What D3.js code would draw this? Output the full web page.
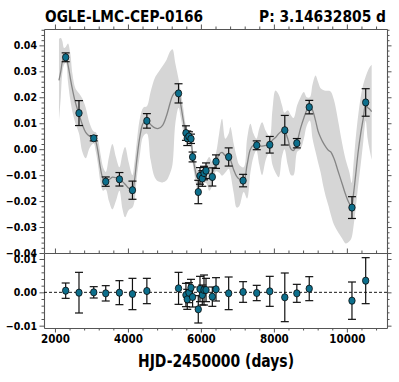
<!DOCTYPE html>
<html>
<head>
<meta charset="utf-8">
<script src="https://cdn.jsdelivr.net/npm/d3@7"></script>
<style>
  body { margin: 0; background: #fff; }
  text { font-family: "DejaVu Sans Condensed", "DejaVu Sans", sans-serif; font-weight: bold; font-stretch: condensed; }
</style>
</head>
<body>
<div id="chart"></div>
<script>
// Variables
var width = 399;
var height = 382;

var starName = 'OGLE-LMC-CEP-0166';
var periodText = 'P: 3.14632805 d';
var xLabel = 'HJD-2450000 (days)';

// observed light curve (HJD-2450000, mag offset, error)
var tObs = [2294, 2659, 3063, 3392, 3767, 4124, 4519, 5387, 5590, 5626, 5672, 5728, 5772,
  5928, 5975, 6038, 6085, 6140, 6313, 6414, 6761, 7156, 7530, 7887, 8299, 8629, 8969, 10140, 10516];
var magObs = [0.0354, 0.0139, 0.0042, -0.0125, -0.0116, -0.0158, 0.0109, 0.0215, 0.0062, 0.0042, 0.0049, 0.0040, -0.0030,
  -0.0165, -0.0103, -0.0113, -0.0092, -0.0083, -0.0107, -0.0048, -0.0030, -0.0121, 0.0015, 0.0017, 0.0073, 0.0023, 0.0162, -0.0225, 0.0180];
var errObs = [0.0017, 0.0048, 0.0010, 0.0018, 0.0026, 0.0035, 0.0028, 0.0037, 0.0028, 0.0028, 0.0018, 0.0018, 0.0019,
  0.0045, 0.0032, 0.0030, 0.0026, 0.0030, 0.0035, 0.0026, 0.0035, 0.0024, 0.0017, 0.0032, 0.0057, 0.0018, 0.0026, 0.0042, 0.0053];

// residuals
var resid = [0.0005, -0.0001, 0.0000, -0.0003, -0.0001, -0.0005, 0.0004, 0.0012, -0.0008, -0.0021, -0.0001, 0.0014, -0.0014,
  -0.0051, 0.0010, -0.0008, 0.0007, 0.0007, -0.0013, 0.0009, -0.0003, 0.0001, -0.0002, 0.0003, -0.0015, -0.0003, 0.0011, -0.0025, 0.0035];
var residErr = [0.0023, 0.0061, 0.0017, 0.0023, 0.0036, 0.0047, 0.0038, 0.0048, 0.0035, 0.0030, 0.0030, 0.0025, 0.0030,
  0.0041, 0.0038, 0.0030, 0.0045, 0.0035, 0.0029, 0.0035, 0.0049, 0.0031, 0.0023, 0.0045, 0.0073, 0.0027, 0.0036, 0.0056, 0.0069];

// GP model: mean and 2-sigma band
var gpT = [2110, 2160, 2200, 2250, 2300, 2357, 2420, 2480, 2560, 2659, 2750, 2843, 2950, 3060, 3120, 3180, 3250, 3320, 3392,
  3480, 3574, 3670, 3767, 3850, 3923, 4020, 4124, 4180, 4244, 4330, 4420, 4519, 4620, 4740, 4839, 4950, 5060, 5150, 5220,
  5300, 5387, 5450, 5525, 5590, 5650, 5728, 5772, 5830, 5900, 5960, 6040, 6140, 6230, 6313, 6414, 6500, 6579, 6670, 6761,
  6807, 6900, 6980, 7050, 7173, 7266, 7357, 7440, 7521, 7600, 7677, 7780, 7887, 7960, 8043, 8134, 8220, 8291, 8380, 8470,
  8540, 8640, 8730, 8821, 8900, 8986, 9060, 9142, 9210, 9280, 9350, 9417, 9500, 9555, 9645, 9760, 9875, 9966, 10070, 10131,
  10180, 10241, 10310, 10379, 10450, 10516, 10570, 10620, 10680];
var gpMean = [0.0265, 0.0300, 0.0335, 0.0352, 0.0355, 0.0325, 0.0275, 0.0230, 0.0180, 0.0135, 0.0095, 0.0065, 0.0050, 0.0044, 0.0030, -0.0010, -0.0075, -0.0115, -0.0123,
  -0.0118, -0.0108, -0.0110, -0.0115, -0.0125, -0.0135, -0.0150, -0.0155, -0.0120, -0.0040, 0.0050, 0.0100, 0.0108, 0.0095, 0.0082, 0.0080, 0.0092, 0.0130, 0.0175, 0.0205,
  0.0220, 0.0215, 0.0170, 0.0105, 0.0060, 0.0045, 0.0030, -0.0025, -0.0070, -0.0110, -0.0115, -0.0105, -0.0090, -0.0095, -0.0090, -0.0050, -0.0020, -0.0012, -0.0025, -0.0030,
  -0.0040, -0.0080, -0.0105, -0.0115, -0.0120, -0.0060, 0.0000, 0.0015, 0.0016, 0.0012, 0.0012, 0.0015, 0.0020, 0.0035, 0.0045, 0.0060, 0.0070, 0.0070, 0.0040, 0.0000,
  -0.0005, 0.0030, 0.0080, 0.0120, 0.0150, 0.0165, 0.0150, 0.0110, 0.0070, 0.0045, 0.0025, 0.0010, -0.0005, -0.0010, -0.0035, -0.0085, -0.0135, -0.0175, -0.0210, -0.0220,
  -0.0175, -0.0100, -0.0010, 0.0060, 0.0120, 0.0175, 0.0160, 0.0155, 0.0145];
var gpLo = [0.0105, 0.0200, 0.0290, 0.0325, 0.0332, 0.0260, 0.0190, 0.0143, 0.0100, 0.0060, -0.0010, -0.0035, 0.0005, 0.0022, -0.0010, -0.0060, -0.0130, -0.0160, -0.0155,
  -0.0200, -0.0232, -0.0200, -0.0160, -0.0230, -0.0262, -0.0235, -0.0225, -0.0200, -0.0110, -0.0020, 0.0050, 0.0060, -0.0040, -0.0110, -0.0125, -0.0128, -0.0120, -0.0095, -0.0060,
  0.0100, 0.0160, 0.0120, 0.0060, 0.0030, 0.0020, 0.0005, -0.0050, -0.0105, -0.0150, -0.0150, -0.0135, -0.0130, -0.0160, -0.0140, -0.0085, -0.0090, -0.0102, -0.0090, -0.0075,
  -0.0095, -0.0170, -0.0225, -0.0220, -0.0165, -0.0190, -0.0090, -0.0030, -0.0005, -0.0060, -0.0100, -0.0040, -0.0010, -0.0060, -0.0090, -0.0108, -0.0030, 0.0000, -0.0060, -0.0100,
  -0.0100, -0.0010, 0.0000, 0.0040, 0.0090, 0.0110, 0.0040, -0.0010, -0.0050, -0.0089, -0.0140, -0.0180, -0.0220, -0.0250, -0.0290, -0.0320, -0.0345, -0.0363, -0.0355, -0.0340,
  -0.0300, -0.0230, -0.0140, -0.0060, 0.0030, 0.0110, 0.0040, 0.0000, -0.0040];
var gpHi = [0.0425, 0.0428, 0.0418, 0.0390, 0.0395, 0.0407, 0.0370, 0.0290, 0.0235, 0.0215, 0.0195, 0.0160, 0.0100, 0.0068, 0.0065, 0.0040, -0.0020, -0.0070, -0.0088,
  -0.0030, 0.0020, -0.0030, -0.0070, -0.0020, 0.0008, -0.0050, -0.0100, -0.0050, 0.0030, 0.0120, 0.0160, 0.0165, 0.0220, 0.0275, 0.0297, 0.0320, 0.0345, 0.0375, 0.0385,
  0.0330, 0.0270, 0.0220, 0.0150, 0.0090, 0.0070, 0.0055, 0.0000, -0.0035, -0.0075, -0.0085, -0.0075, -0.0050, -0.0030, -0.0050, -0.0015, 0.0060, 0.0117, 0.0040, 0.0060,
  0.0085, 0.0020, -0.0030, -0.0060, -0.0070, 0.0040, 0.0098, 0.0060, 0.0040, 0.0080, 0.0104, 0.0070, 0.0050, 0.0150, 0.0226, 0.0210, 0.0170, 0.0140, 0.0150, 0.0130,
  0.0120, 0.0170, 0.0200, 0.0220, 0.0200, 0.0200, 0.0250, 0.0284, 0.0260, 0.0235, 0.0228, 0.0225, 0.0225, 0.0222, 0.0190, 0.0110, 0.0020, -0.0040, -0.0090, -0.0130,
  -0.0060, 0.0040, 0.0130, 0.0200, 0.0250, 0.0280, 0.0300, 0.0315, 0.0325];

var xMajor = [2000, 4000, 6000, 8000, 10000];
var yTopMajor = [-0.04, -0.03, -0.02, -0.01, 0.00, 0.01, 0.02, 0.03, 0.04];
var yBotMajor = [-0.01, 0.00, 0.01];

// layout
var left = 44, right = 387, top1 = 29, sep = 253, bot2 = 328;

var x = d3.scaleLinear().domain([1700, 11100]).range([left, right]);
var yTop = d3.scaleLinear().domain([-0.04, 0.0463]).range([sep, top1]);
var yBot = d3.scaleLinear().domain([-0.0107, 0.0118]).range([bot2, sep]);

var xMinor = d3.range(1600, 11200, 400).filter(function(v) { return v > 1700 && v < 11100 && v % 2000 != 0; });
var yTopMinor = d3.range(-40, 47, 2).map(function(v) { return v / 1000; }).filter(function(v) { return Math.round(v * 1000) % 10 != 0; });
var yBotMinor = d3.range(-10, 12, 2).map(function(v) { return v / 1000; }).filter(function(v) { return Math.round(v * 1000) % 10 != 0; });

var svg = d3.select('#chart').append('svg')
  .attr('width', width)
  .attr('height', height);

var fmt = d3.format('.2f');
var spineColor = '#555';
var majorLen = 4.5, minorLen = 2.5;

function drawAxis(axisFn, scale, pos, major, minor, labels) {
  var g = svg.append('g').attr('transform', pos);
  g.call(axisFn(scale).tickValues(minor).tickSize(minorLen).tickSizeOuter(0).tickFormat(''));
  var g2 = svg.append('g').attr('transform', pos);
  g2.call(axisFn(scale).tickValues(major).tickSize(majorLen).tickSizeOuter(0).tickPadding(2.5)
    .tickFormat(labels ? labels : ''));
  g.select('.domain').remove();
  g2.select('.domain').attr('stroke', spineColor).attr('stroke-width', 1.1);
  g.selectAll('.tick line').attr('stroke', spineColor);
  g2.selectAll('.tick line').attr('stroke', spineColor);
  g2.selectAll('text').attr('font-size', '10.5px').attr('fill', '#000');
  return g2;
}

// top panel axes
drawAxis(d3.axisLeft, yTop, 'translate(' + left + ',0)', yTopMajor, yTopMinor, fmt);
drawAxis(d3.axisRight, yTop, 'translate(' + right + ',0)', yTopMajor, yTopMinor, null);
drawAxis(d3.axisTop, x, 'translate(0,' + top1 + ')', xMajor, xMinor, null);

// bottom panel axes
drawAxis(d3.axisLeft, yBot, 'translate(' + left + ',0)', yBotMajor, yBotMinor, fmt);
drawAxis(d3.axisRight, yBot, 'translate(' + right + ',0)', yBotMajor, yBotMinor, null);
drawAxis(d3.axisTop, x, 'translate(0,' + sep + ')', xMajor, xMinor, null);
var xb = drawAxis(d3.axisBottom, x, 'translate(0,' + bot2 + ')', xMajor, xMinor, d3.format('d'));
xb.selectAll('text').attr('font-size', '11.5px');

// clip for top panel
svg.append('clipPath').attr('id', 'clipTop')
  .append('rect').attr('x', left).attr('y', top1).attr('width', right - left).attr('height', sep - top1);

var gp = gpT.map(function(t, i) { return { t: t, m: gpMean[i], lo: gpLo[i], hi: gpHi[i] }; });

var band = d3.area()
  .x(function(d) { return x(d.t); })
  .y0(function(d) { return yTop(d.lo); })
  .y1(function(d) { return yTop(d.hi); })
  .curve(d3.curveCatmullRom.alpha(0.5));

var meanLine = d3.line()
  .x(function(d) { return x(d.t); })
  .y(function(d) { return yTop(d.m); })
  .curve(d3.curveCatmullRom.alpha(0.5));

var topG = svg.append('g').attr('clip-path', 'url(#clipTop)');
topG.append('path').datum(gp).attr('d', band).attr('fill', '#d6d6d6');
topG.append('path').datum(gp).attr('d', meanLine).attr('fill', 'none').attr('stroke', '#858585').attr('stroke-width', 1.3);

var obs = tObs.map(function(t, i) { return { t: t, m: magObs[i], e: errObs[i], r: resid[i], re: residErr[i] }; });

function drawPoints(g, yScale, valKey, errKey) {
  var cap = 4;
  var eb = g.selectAll('g.eb').data(obs).enter().append('g').attr('class', 'eb')
    .attr('stroke', '#111').attr('stroke-width', 1.2);
  eb.append('line')
    .attr('x1', function(d) { return x(d.t); }).attr('x2', function(d) { return x(d.t); })
    .attr('y1', function(d) { return yScale(d[valKey] - d[errKey]); })
    .attr('y2', function(d) { return yScale(d[valKey] + d[errKey]); });
  eb.append('line')
    .attr('x1', function(d) { return x(d.t) - cap; }).attr('x2', function(d) { return x(d.t) + cap; })
    .attr('y1', function(d) { return yScale(d[valKey] - d[errKey]); })
    .attr('y2', function(d) { return yScale(d[valKey] - d[errKey]); });
  eb.append('line')
    .attr('x1', function(d) { return x(d.t) - cap; }).attr('x2', function(d) { return x(d.t) + cap; })
    .attr('y1', function(d) { return yScale(d[valKey] + d[errKey]); })
    .attr('y2', function(d) { return yScale(d[valKey] + d[errKey]); });
  g.selectAll('ellipse.pt').data(obs).enter().append('ellipse').attr('class', 'pt')
    .attr('cx', function(d) { return x(d.t); })
    .attr('cy', function(d) { return yScale(d[valKey]); })
    .attr('rx', 3.2).attr('ry', 3.6)
    .attr('fill', '#0d6f8c')
    .attr('stroke', '#0a0a0a').attr('stroke-width', 0.8);
}

drawPoints(topG, yTop, 'm', 'e');

// bottom panel
svg.append('line')
  .attr('x1', left).attr('x2', right)
  .attr('y1', yBot(0)).attr('y2', yBot(0))
  .attr('stroke', '#000').attr('stroke-width', 0.9).attr('stroke-dasharray', '3,2');

var botG = svg.append('g');
drawPoints(botG, yBot, 'r', 're');

// titles
svg.append('text').attr('x', left + 1).attr('y', 22)
  .attr('font-size', '16.5px').attr('textLength', 158).attr('lengthAdjust', 'spacingAndGlyphs').text(starName);
svg.append('text').attr('x', right - 1).attr('y', 22).attr('text-anchor', 'end')
  .attr('font-size', '16.5px').attr('textLength', 127).attr('lengthAdjust', 'spacingAndGlyphs').text(periodText);
svg.append('text').attr('x', 216).attr('y', 367).attr('text-anchor', 'middle')
  .attr('font-size', '18px').attr('textLength', 156).attr('lengthAdjust', 'spacingAndGlyphs').text(xLabel);
</script>
</body>
</html>
